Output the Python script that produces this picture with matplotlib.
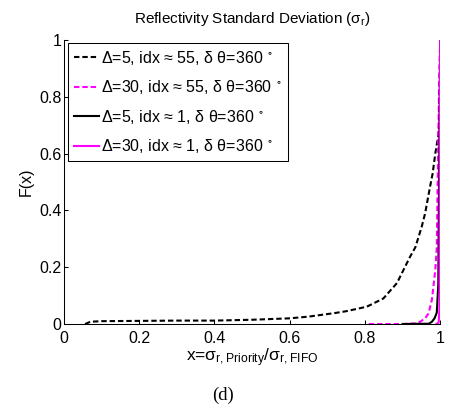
import numpy as np
import matplotlib
matplotlib.use('Agg')
import matplotlib.pyplot as plt

plt.rcParams['font.family'] = ['Liberation Sans', 'DejaVu Sans']
plt.rcParams['mathtext.default'] = 'regular'

# CDF of sigma_r ratio, Priority vs FIFO
x_d5_i55 = [0.056, 0.07, 0.1, 0.2, 0.3, 0.4, 0.5, 0.6, 0.65, 0.717, 0.75, 0.805,
            0.849, 0.885, 0.92, 0.934, 0.951, 0.96, 0.973, 0.98, 0.987, 0.992,
            0.995, 0.997, 0.999, 1.0]
y_d5_i55 = [0.0, 0.008, 0.01, 0.011, 0.012, 0.012, 0.015, 0.02, 0.026, 0.038, 0.045,
            0.061, 0.09, 0.144, 0.237, 0.27, 0.343, 0.39, 0.483, 0.53, 0.60, 0.64,
            0.66, 0.70, 0.85, 1.0]

x_d30_i55 = [0.81, 0.9, 0.933, 0.947, 0.96, 0.969, 0.978, 0.987, 0.991, 0.995, 0.998, 1.0]
y_d30_i55 = [0.0, 0.0, 0.002, 0.008, 0.02, 0.037, 0.085, 0.19, 0.27, 0.65, 0.9, 1.0]

x_d5_i1 = [0.9, 0.97, 0.978, 0.985, 0.991, 0.995, 0.997, 1.0]
y_d5_i1 = [0.0, 0.001, 0.008, 0.02, 0.04, 0.14, 0.5, 1.0]

x_d30_i1 = [0.99, 0.996, 0.998, 0.999, 1.0]
y_d30_i1 = [0.0, 0.005, 0.05, 0.5, 1.0]

labels = [u'\u0394=5, idx \u2248 55, \u03b4 \u03b8=360$^{\\ \\circ}$',
          u'\u0394=30, idx \u2248 55, \u03b4 \u03b8=360$^{\\ \\circ}$',
          u'\u0394=5, idx \u2248 1, \u03b4 \u03b8=360$^{\\ \\circ}$',
          u'\u0394=30, idx \u2248 1, \u03b4 \u03b8=360$^{\\ \\circ}$']

fig = plt.figure(figsize=(4.51, 4.04), dpi=100)
ax = fig.add_axes([0.142, 0.198, 0.834, 0.703])

ax.plot(x_d5_i55, y_d5_i55, color='k', lw=1.5, ls=(0, (2.6, 1.4)), label=labels[0])
ax.plot(x_d30_i55, y_d30_i55, color='#ff00ff', lw=1.5, ls=(0, (2.6, 1.4)), label=labels[1])
ax.plot(x_d5_i1, y_d5_i1, color='k', lw=1.5, label=labels[2])
ax.plot(x_d30_i1, y_d30_i1, color='#ff00ff', lw=1.5, label=labels[3])

ax.set_xlim(0, 1)
ax.set_ylim(0, 1)
ax.set_xticks([0, 0.2, 0.4, 0.6, 0.8, 1])
ax.set_xticklabels(['0', '0.2', '0.4', '0.6', '0.8', '1'])
ax.set_yticks([0, 0.2, 0.4, 0.6, 0.8, 1])
ax.set_yticklabels(['0', '0.2', '0.4', '0.6', '0.8', '1'])
ax.spines['top'].set_visible(False)
ax.spines['right'].set_visible(False)
for s in ['left', 'bottom']:
    ax.spines[s].set_linewidth(0.75)
ax.tick_params(direction='in', length=3, width=0.75, labelsize=11.5)
ax.tick_params(axis='x', pad=5)
ax.tick_params(axis='y', pad=2)

ax.set_title(u'Reflectivity Standard Deviation ($\\sigma_r$)', fontsize=11, pad=12)
ax.set_ylabel('F(x)', fontsize=11.5)
ax.yaxis.set_label_coords(-0.08, 0.5)
ax.set_xlabel(u'x=$\\sigma_{r,Priority}$/$\\sigma_{r,FIFO}$', fontsize=12.5, va='top')
ax.xaxis.set_label_coords(0.5, -0.078)

leg = ax.legend(loc='upper left', bbox_to_anchor=(0.011, 0.989), borderaxespad=0,
                fontsize=11.5, handlelength=1.6, handletextpad=0.1,
                labelspacing=0.72, borderpad=0.35, fancybox=False, framealpha=1)
leg.get_frame().set_edgecolor('k')
leg.get_frame().set_linewidth(0.75)

fig.text(0.495, 0.022, '(d)', family='Liberation Serif', fontsize=13.5, ha='center', va='center')

fig.savefig('out.png', dpi=100)
